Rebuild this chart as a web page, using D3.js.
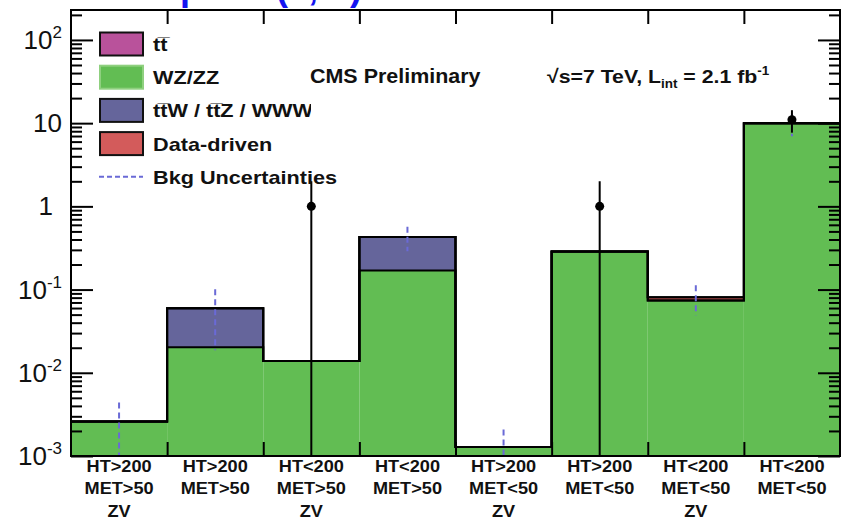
<!DOCTYPE html>
<html>
<head>
<meta charset="utf-8">
<script src="https://cdn.jsdelivr.net/npm/d3@7"></script>
<style>
  body { margin: 0; background: #fff; }
  svg { display: block; }
  text { font-family: "Liberation Sans", Arial, Helvetica, sans-serif; fill: #111; }
</style>
</head>
<body>
<svg id="chart" width="842" height="525"></svg>
<script>
// ---- data --------------------------------------------------------------
const categories = [
  "HT>200|MET>50|ZV", "HT>200|MET>50", "HT<200|MET>50|ZV", "HT<200|MET>50",
  "HT>200|MET<50|ZV", "HT>200|MET<50", "HT<200|MET<50|ZV", "HT<200|MET<50"
];
// expected yields per bin (stacked bottom to top)
const wzzz       = [0.0026, 0.0203, 0.0139, 0.169, 0.00128, 0.286, 0.0737, 9.97];
const ttwZwww    = [0,      0.0393, 0,      0.260, 0,       0,     0,      0   ];
const dataDriven = [0,      0,      0,      0,     0,       0,     0.0070, 0   ];
const ttbar      = [0,      0,      0,      0,     0,       0,     0,      0   ];
// total background uncertainty (null = not shown)
const bkgErr     = [0.0018, 0.041,  null,   0.14,  0.0008,  null,  0.032,  3.0 ];
// observed events
const observed   = [0, 0, 1, 0, 0, 1, 0, 11];

const yTickValues = [1e-3, 1e-2, 1e-1, 1, 10, 100];
const yTickLabels = [["10", "-3"], ["10", "-2"], ["10", "-1"], ["1", ""], ["10", ""], ["10", "2"]];

const legendLabels = ["t\u0074\u0305", "WZ/ZZ", "t\u0074\u0305W / t\u0074\u0305Z / WWW", "Data-driven", "Bkg Uncertainties"];

// ---- layout ------------------------------------------------------------
const X0 = 71, X1 = 840, Y0 = 10, Y1 = 456;
const colors = { wz: "#62bd53", ttw: "#65659b", dd: "#d35b5b", tt: "#b9529b" };
const errColor = "#6a6ad6";

const svg = d3.select("#chart");

const x = d3.scaleBand().domain(categories).range([X0, X1]).paddingInner(0).paddingOuter(0);
const edge = d3.scaleLinear().domain([0, categories.length]).range([X0, X1]);
const y = d3.scaleLog().domain([1e-3, 229]).range([Y1, Y0]);
const yc = v => (v > 0 ? y(v) : Y1 + 50);

function stretch(sel, k) {
  sel.each(function () {
    const w = this.getComputedTextLength();
    d3.select(this).attr("textLength", w * k).attr("lengthAdjust", "spacingAndGlyphs");
  });
}

const defs = svg.append("defs");
defs.append("clipPath").attr("id", "plot")
  .append("rect").attr("x", X0).attr("y", Y0).attr("width", X1 - X0).attr("height", Y1 - Y0);
defs.append("clipPath").attr("id", "legclip")
  .append("rect").attr("x", 0).attr("y", 0).attr("width", 311).attr("height", 525);

// ---- stacked histogram --------------------------------------------------
const rows = categories.map((c, i) => ({ cat: c, wz: wzzz[i], ttw: ttwZwww[i], dd: dataDriven[i], tt: ttbar[i] }));
const keys = ["wz", "ttw", "dd", "tt"];
const series = d3.stack().keys(keys)(rows);

const plot = svg.append("g").attr("clip-path", "url(#plot)");

series.forEach(s => {
  plot.append("g").selectAll("rect")
    .data(s.filter(d => d[1] > d[0]))
    .join("rect")
    .attr("x", d => x(d.data.cat))
    .attr("width", x.bandwidth())
    .attr("y", d => y(d[1]))
    .attr("height", d => yc(d[0]) - y(d[1]))
    .attr("fill", colors[s.key]);
});

// black step outline of each cumulative layer
const step = d3.line().x(d => d[0]).y(d => d[1]).curve(d3.curveStepAfter);
series.forEach(s => {
  const pts = [[edge(0), Y1 + 5]];
  s.forEach((d, i) => pts.push([edge(i), y(d[1])]));
  pts.push([edge(s.length), y(s[s.length - 1][1])]);
  pts.push([edge(s.length), Y1 + 5]);
  plot.append("path").attr("d", step(pts))
    .attr("fill", "none").attr("stroke", "#000").attr("stroke-width", 2);
});

// background uncertainty bars
const totals = rows.map(r => r.wz + r.ttw + r.dd + r.tt);
plot.append("g").selectAll("line")
  .data(categories.map((c, i) => ({ c, t: totals[i], e: bkgErr[i] })).filter(d => d.e !== null))
  .join("line")
  .attr("x1", d => x(d.c) + x.bandwidth() / 2)
  .attr("x2", d => x(d.c) + x.bandwidth() / 2)
  .attr("y1", d => y(d.t + d.e))
  .attr("y2", d => yc(d.t - d.e))
  .attr("stroke", errColor).attr("stroke-width", 2).attr("stroke-dasharray", "6,4");

// observed data with sqrt(N) errors
const obs = categories.map((c, i) => ({ c, n: observed[i] })).filter(d => d.n > 0);
plot.append("g").selectAll("line")
  .data(obs).join("line")
  .attr("x1", d => x(d.c) + x.bandwidth() / 2)
  .attr("x2", d => x(d.c) + x.bandwidth() / 2)
  .attr("y1", d => y(d.n + Math.sqrt(d.n)))
  .attr("y2", d => yc(d.n - Math.sqrt(d.n)))
  .attr("stroke", "#000").attr("stroke-width", 2);
plot.append("g").selectAll("circle")
  .data(obs).join("circle")
  .attr("cx", d => x(d.c) + x.bandwidth() / 2)
  .attr("cy", d => y(d.n))
  .attr("r", 4.5).attr("fill", "#000");

// ---- axes ---------------------------------------------------------------
const minor = [];
for (let e = -3; e <= 2; e++) for (let m = 2; m <= 9; m++) {
  const v = m * Math.pow(10, e);
  if (v <= y.domain()[1]) minor.push(v);
}
function styleAxis(g) {
  g.select(".domain").remove();
  g.selectAll(".tick line").attr("stroke", "#000").attr("stroke-width", 2);
  g.selectAll(".tick text").remove();
}
svg.append("g").attr("transform", `translate(${X0},0)`)
  .call(d3.axisLeft(y).tickValues(yTickValues).tickSize(-22)).call(styleAxis);
svg.append("g").attr("transform", `translate(${X0},0)`)
  .call(d3.axisLeft(y).tickValues(minor).tickSize(-11)).call(styleAxis);
svg.append("g").attr("transform", `translate(${X1},0)`)
  .call(d3.axisRight(y).tickValues(yTickValues).tickSize(-22)).call(styleAxis);
svg.append("g").attr("transform", `translate(${X1},0)`)
  .call(d3.axisRight(y).tickValues(minor).tickSize(-11)).call(styleAxis);
const inner = d3.range(1, categories.length);
svg.append("g").attr("transform", `translate(0,${Y1})`)
  .call(d3.axisBottom(edge).tickValues(inner).tickSize(-14)).call(styleAxis);
svg.append("g").attr("transform", `translate(0,${Y0})`)
  .call(d3.axisTop(edge).tickValues(inner).tickSize(-14)).call(styleAxis);

svg.append("rect").attr("x", X0).attr("y", Y0).attr("width", X1 - X0).attr("height", Y1 - Y0)
  .attr("fill", "none").attr("stroke", "#000").attr("stroke-width", 2);

// y tick labels (10^n); the plain "1" sits a little further left
const ylab = svg.append("g").selectAll("text")
  .data(yTickValues.map((v, i) => ({ v, l: yTickLabels[i] })))
  .join("text")
  .attr("x", d => (d.l[0] === "1" ? 53 : 62)).attr("y", d => y(d.v) + 9)
  .attr("text-anchor", "end")
  .attr("font-size", 26);
ylab.append("tspan").text(d => d.l[0]);
ylab.filter(d => d.l[1]).append("tspan")
  .attr("font-size", 17).attr("dy", -11).text(d => d.l[1]);

// bin labels
const xl = svg.append("g").selectAll("g")
  .data(categories).join("g")
  .attr("transform", d => `translate(${x(d) + x.bandwidth() / 2},0)`);
xl.selectAll("text")
  .data(d => d.split("|"))
  .join("text")
  .attr("y", (d, i) => 472 + i * 22.3)
  .attr("text-anchor", "middle")
  .attr("font-size", 16.5).attr("font-weight", "bold")
  .text(d => d)
  .call(stretch, 1.1);

// ---- legend -------------------------------------------------------------
const legFill = [colors.tt, colors.wz, colors.ttw, colors.dd, null];
const leg = svg.append("g");
legendLabels.forEach((lab, i) => {
  const cy = 44 + i * 33.2;
  if (legFill[i]) {
    leg.append("rect").attr("x", 100).attr("y", cy - 11.5).attr("width", 43).attr("height", 23)
      .attr("fill", legFill[i])
      .attr("stroke", i === 1 ? "#8fd07f" : "#111").attr("stroke-width", 2);
  } else {
    leg.append("line").attr("x1", 99).attr("x2", 143).attr("y1", cy).attr("y2", cy)
      .attr("stroke", errColor).attr("stroke-width", 2).attr("stroke-dasharray", "5,3");
  }
  const t = leg.append("text").attr("x", 153).attr("y", cy + 7)
    .attr("font-size", 19).attr("font-weight", "bold")
    .text(lab).call(stretch, 1.14);
  // the long third entry runs into the legend border and is cut there
  if (i === 2) t.attr("clip-path", "url(#legclip)");
});

// ---- header -------------------------------------------------------------
svg.append("text").attr("x", 310).attr("y", 83)
  .attr("font-size", 19.5).attr("font-weight", "bold")
  .text("CMS Preliminary").call(stretch, 1.1);

const hdr = svg.append("text").attr("x", 547).attr("y", 83)
  .attr("font-size", 19).attr("font-weight", "bold");
hdr.append("tspan").text("\u221As=7 TeV, L");
hdr.append("tspan").attr("font-size", 12).attr("dy", 5).text("int");
hdr.append("tspan").attr("dy", -5).text(" = 2.1 fb");
hdr.append("tspan").attr("font-size", 12).attr("dy", -8).text("-1");
hdr.call(stretch, 1.12);

// slide title sitting above the top edge of the page
svg.append("text").attr("x", 180).attr("y", 0)
  .attr("font-size", 36).attr("font-weight", "bold").style("fill", "#1414f0")
  .text("plots (e,m)");
</script>
</body>
</html>
